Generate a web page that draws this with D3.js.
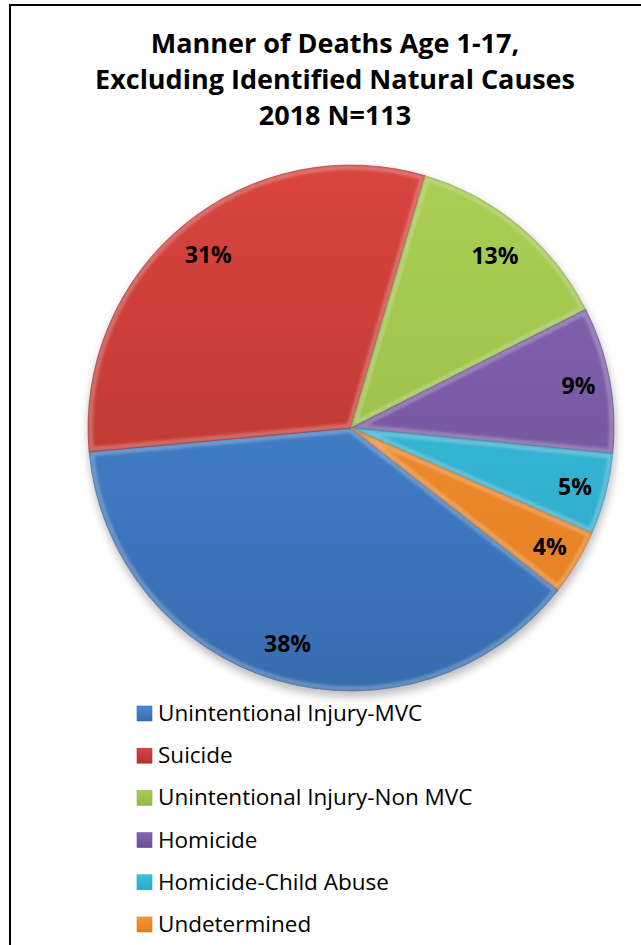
<!DOCTYPE html>
<html>
<head>
<meta charset="utf-8">
<script src="https://cdn.jsdelivr.net/npm/d3@7/dist/d3.min.js"></script>
<style>
  html, body { margin: 0; padding: 0; background: #fff; }
  svg { display: block; }
</style>
</head>
<body>
<svg id="chart" width="641" height="945"></svg>
<script>
// Manner of death, ages 1-17, 2018 (N=113), natural causes excluded
const categories = [
  "Unintentional Injury-MVC",
  "Suicide",
  "Unintentional Injury-Non MVC",
  "Homicide",
  "Homicide-Child Abuse",
  "Undetermined"
];
const percents = [38, 31, 13, 9, 5, 4];
const titleLines = [
  "Manner of Deaths Age 1-17,",
  "Excluding Identified Natural Causes",
  "2018 N=113"
];
// top / bottom shades for each slice
const colorsTop = ["#4a8bdb", "#d9443f", "#a9cf52", "#8666b4", "#3fc1e0", "#f8973a"];
const colorsBottom = ["#376caf", "#b0332e", "#93b545", "#6a4e93", "#2ba6c6", "#e27d1e"];

const W = 641, H = 945;
const cx = 351, cy = 428, R = 263;
const rotation = 128 * Math.PI / 180;
const FONT = "'Open Sans', 'Noto Sans', sans-serif";

const svg = d3.select("#chart");
const defs = svg.append("defs");

// chart frame
svg.append("rect")
  .attr("x", 10).attr("y", 5)
  .attr("width", W + 20).attr("height", H + 20)
  .attr("fill", "none").attr("stroke", "#000").attr("stroke-width", 2);

// title
const title = svg.append("text")
  .attr("text-anchor", "middle")
  .attr("font-family", FONT)
  .attr("font-weight", 700)
  .attr("font-size", 27)
  .attr("fill", "#000");
title.selectAll("tspan").data(titleLines).join("tspan")
  .attr("x", 335)
  .attr("y", (d, i) => 53 + i * 36)
  .text(d => d);

// gradients
categories.forEach((c, i) => {
  const g = defs.append("linearGradient")
    .attr("id", "grad" + i)
    .attr("gradientUnits", "userSpaceOnUse")
    .attr("x1", 0).attr("y1", -R).attr("x2", 0).attr("y2", R);
  g.append("stop").attr("offset", "0%").attr("stop-color", colorsTop[i]);
  g.append("stop").attr("offset", "100%").attr("stop-color", colorsBottom[i]);

  const lg = defs.append("linearGradient")
    .attr("id", "lgrad" + i)
    .attr("x1", 0).attr("y1", 0).attr("x2", 0).attr("y2", 1);
  lg.append("stop").attr("offset", "0%").attr("stop-color", colorsTop[i]);
  lg.append("stop").attr("offset", "100%").attr("stop-color", colorsBottom[i]);
});

const soft = defs.append("filter").attr("id", "soft")
  .attr("x", "-10%").attr("y", "-10%").attr("width", "120%").attr("height", "120%");
soft.append("feGaussianBlur").attr("stdDeviation", 1.5);

const shadow = defs.append("filter").attr("id", "shadow")
  .attr("x", "-10%").attr("y", "-10%").attr("width", "120%").attr("height", "120%");
shadow.append("feGaussianBlur").attr("stdDeviation", 4);

const pie = d3.pie().sort(null).value(d => d)
  .startAngle(rotation).endAngle(rotation + 2 * Math.PI);
const arcs = pie(percents);
const arc = d3.arc().innerRadius(0).outerRadius(R);

const g = svg.append("g").attr("transform", `translate(${cx},${cy})`);

// drop shadow under the pie
g.append("circle")
  .attr("cx", 1).attr("cy", 5).attr("r", R + 1)
  .attr("fill", "#000").attr("opacity", 0.25)
  .attr("filter", "url(#shadow)");

arcs.forEach((d, i) => {
  defs.append("clipPath").attr("id", "clip" + i)
    .append("path").attr("d", arc(d));
});

const slices = g.selectAll("g.slice").data(arcs).join("g").attr("class", "slice");
slices.append("path")
  .attr("d", arc)
  .attr("fill", (d, i) => `url(#grad${i})`);
// beveled rim: light inner edge, darker outline
const rims = slices.append("g").attr("clip-path", (d, i) => `url(#clip${i})`);
rims.append("path")
  .attr("d", arc)
  .attr("fill", "none")
  .attr("stroke", "#fff")
  .attr("stroke-opacity", 0.28)
  .attr("stroke-width", 9)
  .attr("filter", "url(#soft)");
rims.append("path")
  .attr("d", arc)
  .attr("fill", "none")
  .attr("stroke", "#000")
  .attr("stroke-opacity", 0.2)
  .attr("stroke-width", 2)
  .attr("filter", "url(#soft)");
slices.append("path")
  .attr("d", arc)
  .attr("fill", "none")
  .attr("stroke", (d, i) => colorsBottom[i])
  .attr("stroke-width", 0.6);

// percentage labels
g.selectAll("text.pct").data(arcs).join("text")
  .attr("class", "pct")
  .attr("transform", d => {
    const rr = (d.data < 10 ? 0.88 : 0.855) * R;
    const a = (d.startAngle + d.endAngle) / 2;
    return `translate(${rr * Math.sin(a)},${-rr * Math.cos(a)})`;
  })
  .attr("text-anchor", "middle")
  .attr("dy", "0.36em")
  .attr("font-family", FONT)
  .attr("font-weight", 700)
  .attr("font-size", 23)
  .attr("fill", "#000")
  .text(d => d.data + "%");

// legend
const legend = svg.append("g");
const rows = legend.selectAll("g").data(categories).join("g")
  .attr("transform", (d, i) => `translate(137,${721 + i * 42.2})`);
rows.append("rect")
  .attr("x", 0).attr("y", -15).attr("width", 15).attr("height", 15)
  .attr("fill", (d, i) => `url(#lgrad${i})`)
  .attr("stroke", (d, i) => colorsBottom[i]).attr("stroke-width", 0.6);
rows.append("text")
  .attr("x", 21).attr("y", 0)
  .attr("font-family", FONT)
  .attr("font-size", 22.5)
  .attr("fill", "#000")
  .text(d => d);
</script>
</body>
</html>
